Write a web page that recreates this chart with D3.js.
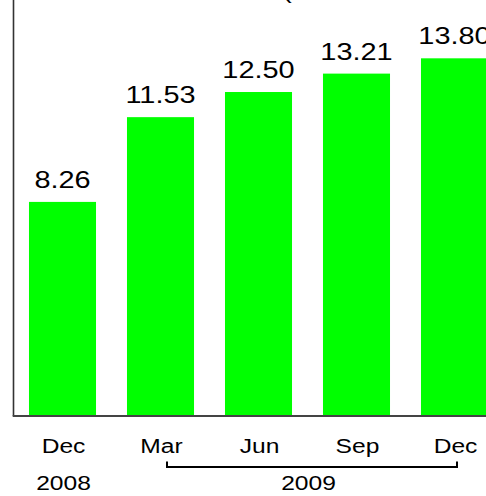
<!DOCTYPE html>
<html>
<head>
<meta charset="utf-8">
<script src="https://cdn.jsdelivr.net/npm/d3@7/dist/d3.min.js"></script>
<style>
  html, body { margin: 0; padding: 0; background: #fff; overflow: hidden; }
  svg { display: block; font-family: "Liberation Sans", Arial, sans-serif; }
</style>
</head>
<body>
<script>
// Quarter-end values
const months = ["Dec", "Mar", "Jun", "Sep", "Dec"];
const years = ["2008", "2009", "2009", "2009", "2009"];
const values = [8.26, 11.53, 12.50, 13.21, 13.80];
const yearGroups = [
  { label: "2008", from: 0, to: 0, bracket: false },
  { label: "2009", from: 1, to: 4, bracket: true }
];

const W = 486, H = 496;
const stretch = 1.23; // horizontally widened lettering

const svg = d3.select("body").append("svg")
  .attr("width", W).attr("height", H);

const ids = d3.range(values.length);

const x = d3.scaleBand()
  .domain(ids)
  .range([13.5, 503.5])
  .paddingInner(0.316)
  .paddingOuter(0.158);

const y = d3.scaleLinear()
  .domain([0, 16.05])
  .range([416, 0]);

// bars
svg.selectAll("rect.bar").data(values).join("rect")
  .attr("class", "bar")
  .attr("x", (d, i) => x(i))
  .attr("width", x.bandwidth())
  .attr("y", d => y(d))
  .attr("height", d => y(0) - y(d))
  .attr("fill", "#00ff00");

// axes lines
svg.append("line")
  .attr("x1", 13.5).attr("x2", 13.5)
  .attr("y1", 0).attr("y2", y(0))
  .attr("stroke", "#333").attr("stroke-width", 1.6);
svg.append("line")
  .attr("x1", 12.7).attr("x2", W)
  .attr("y1", y(0)).attr("y2", y(0))
  .attr("stroke", "#444").attr("stroke-width", 1.8);

function stretchedText(sel, tx, ty, size) {
  return sel.append("text")
    .attr("transform", `translate(${tx},${ty}) scale(${stretch},1)`)
    .attr("text-anchor", "middle")
    .attr("font-size", size)
    .attr("fill", "#000");
}

// value labels
values.forEach((v, i) => {
  stretchedText(svg, x(i) + x.bandwidth() / 2, y(v) - 14, 23.5)
    .text(v.toFixed(2));
});

// month labels
months.forEach((m, i) => {
  stretchedText(svg, x(i) + x.bandwidth() / 2 + 1, 453, 20).text(m);
});

// year labels with bracket
yearGroups.forEach(g => {
  const cx0 = x(g.from) + x.bandwidth() / 2;
  const cx1 = x(g.to) + x.bandwidth() / 2;
  const mid = (cx0 + cx1) / 2;
  stretchedText(svg, mid + 1, 490, 20).text(g.label);
  if (g.bracket) {
    const left = cx0 + 6.5, right = cx1 + 2.5;
    svg.append("path")
      .attr("d", `M${left},461.5V467H${right}V461.5`)
      .attr("fill", "none")
      .attr("stroke", "#000")
      .attr("stroke-width", 2);
  }
});

// title (opening parenthesis at top edge)
stretchedText(svg, 287, -2, 24).text("(");
</script>
</body>
</html>
